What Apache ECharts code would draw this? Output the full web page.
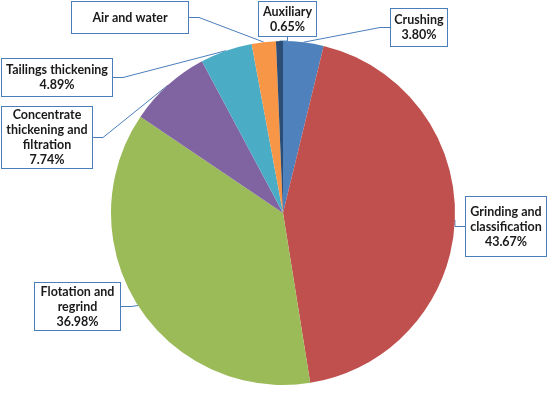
<!DOCTYPE html>
<html><head><meta charset="utf-8">
<script src="https://cdn.jsdelivr.net/npm/echarts@6/dist/echarts.min.js"></script>
<style>html,body{margin:0;padding:0;background:#fff}#c{width:547px;height:396px}</style>
</head><body><div id="c"></div>
<script>
const categories = ['Crushing','Grinding and classification','Flotation and regrind','Concentrate thickening and filtration','Tailings thickening','Air and water','Auxiliary'];
const values = [3.80, 43.67, 36.98, 7.74, 4.89, 2.27, 0.65];
const labelTexts = ['Crushing\n3.80%','Grinding and\nclassification\n43.67%','Flotation and\nregrind\n36.98%','Concentrate\nthickening and\nfiltration\n7.74%','Tailings thickening\n4.89%','Air and water','Auxiliary\n0.65%'];
const colors = ['#4F81BD','#C0504D','#9BBB59','#8064A2','#4BACC6','#F79646','#2C4D75'];
// label boxes: [left, top, width, height]
const boxes = [[391,9,56,37],[466,197,80,59],[35,283,85,47],[2,107,90,61],[2,59,110,37],[72,2,116,31],[259,2,57,34]];

const chart = echarts.init(document.getElementById('c'));
chart.setOption({
  animation:false,
  series:[{
    type:'pie',
    center:[283,213],
    radius:172,
    startAngle:90,
    clockwise:true,
    data: categories.map((n,i)=>({name:n, value:values[i], itemStyle:{color:colors[i]}})),
    label:{
      show:true, position:'outside',
      formatter:p=>labelTexts[p.dataIndex],
      fontFamily:'Lato', fontWeight:'bold', fontSize:12.5, lineHeight:15, color:'#1a1a1a',
      backgroundColor:'#fff', borderColor:'#4A7EBB', borderWidth:1, padding:0, align:'center'
    },
    labelLine:{show:true, length:10, length2:10, smooth:false, lineStyle:{color:'#4A7EBB', width:1}},
    labelLayout: function(p){
      const b = boxes[p.dataIndex];
      return {x:b[0]+b[2]/2, y:b[1]+b[3]/2, align:'center', verticalAlign:'middle', width:b[2], height:b[3]};
    }
  }]
});
</script></body></html>
